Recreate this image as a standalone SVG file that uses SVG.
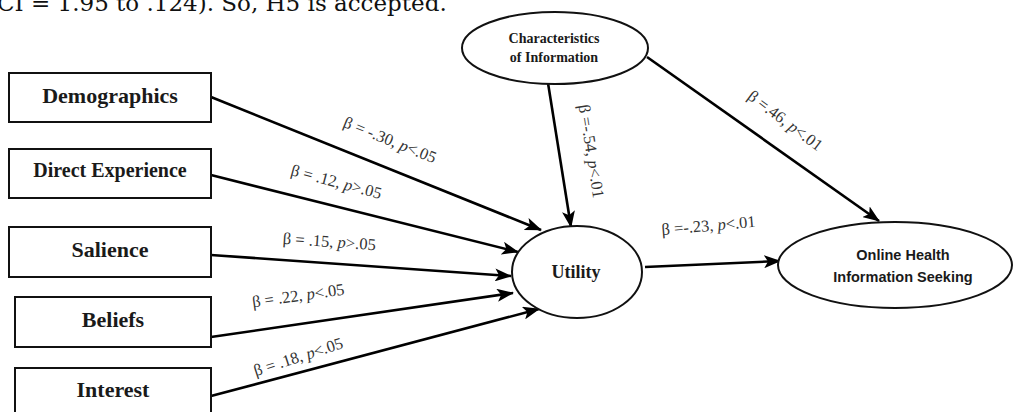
<svg xmlns="http://www.w3.org/2000/svg" width="1017" height="412" viewBox="0 0 1017 412">
<style>
.box{fill:#fff;stroke:#111;stroke-width:2}
.ell{fill:#fff;stroke:#111;stroke-width:2}
.bt{font-family:"Liberation Serif",serif;font-weight:bold;fill:#1a1a1a;text-anchor:middle}
.st{font-family:"Liberation Sans",sans-serif;font-weight:bold;fill:#1a1a1a;text-anchor:middle;font-size:14.5px}
.edge{stroke:#000;stroke-width:2.6;fill:none;marker-end:url(#arr)}
.lbl{font-family:"Liberation Serif",serif;font-size:16.5px;fill:#333;text-anchor:middle}
.it{font-style:italic}
</style>
<defs>
<marker id="arr" markerUnits="userSpaceOnUse" markerWidth="17" markerHeight="13" refX="16" refY="6.5" orient="auto">
<path d="M0,0 L17,6.5 L0,13 L4,6.5 Z" fill="#000"/>
</marker>
</defs>
<text x="-3" y="11" font-family="DejaVu Serif,serif" font-size="23" fill="#111">CI = 1.95 to .124). So, H5 is accepted.</text>
<g id="connectors">
<line class="edge" x1="211" y1="97" x2="541" y2="230"/>
<line class="edge" x1="211" y1="175" x2="518" y2="252"/>
<line class="edge" x1="211" y1="255" x2="511" y2="276"/>
<line class="edge" x1="211" y1="337" x2="513" y2="293"/>
<line class="edge" x1="211" y1="396" x2="539" y2="309"/>
<line class="edge" x1="548" y1="83" x2="571" y2="227"/>
<line class="edge" x1="647" y1="57" x2="879" y2="221"/>
<line class="edge" x1="645" y1="267" x2="780" y2="261"/>
</g>
<g id="labels">
<text class="lbl" transform="translate(388,145) rotate(22)">β = -.30, <tspan class="it">p</tspan>&lt;.05</text>
<text class="lbl" transform="translate(335,187) rotate(15)">β = .12, <tspan class="it">p</tspan>&gt;.05</text>
<text class="lbl" transform="translate(329,247) rotate(4)">β = .15, <tspan class="it">p</tspan>&gt;.05</text>
<text class="lbl" transform="translate(299,301) rotate(-8)">β = .22, <tspan class="it">p</tspan>&lt;.05</text>
<text class="lbl" transform="translate(300,362) rotate(-18)">β = .18, <tspan class="it">p</tspan>&lt;.05</text>
<text class="lbl" transform="translate(586,152) rotate(81)">β =-.54, <tspan class="it">p</tspan>&lt;.01</text>
<text class="lbl" transform="translate(782,125) rotate(37)">β =.46, <tspan class="it">p</tspan>&lt;.01</text>
<text class="lbl" transform="translate(709,231) rotate(-5)">β =-.23, <tspan class="it">p</tspan>&lt;.01</text>
</g>
<g id="demographics"><rect class="box" x="9" y="73" width="202" height="49"/><text class="bt" x="110" y="103" font-size="22">Demographics</text></g>
<g id="direct-experience"><rect class="box" x="9" y="149" width="202" height="49"/><text class="bt" x="110" y="177" font-size="20">Direct Experience</text></g>
<g id="salience"><rect class="box" x="9" y="227" width="202" height="50"/><text class="bt" x="110" y="257" font-size="22">Salience</text></g>
<g id="beliefs"><rect class="box" x="15" y="297" width="196" height="50"/><text class="bt" x="113" y="327" font-size="22">Beliefs</text></g>
<g id="interest"><rect class="box" x="15" y="368" width="196" height="50"/><text class="bt" x="113" y="397" font-size="22">Interest</text></g>
<g id="utility"><ellipse class="ell" cx="577" cy="272" rx="65" ry="46"/><text class="bt" x="576" y="278" font-size="18">Utility</text></g>
<g id="characteristics"><ellipse class="ell" cx="555" cy="48" rx="93" ry="36"/><text class="bt" x="554" y="43" font-size="14">Characteristics</text><text class="bt" x="554" y="62" font-size="14">of Information</text></g>
<g id="online-health"><ellipse class="ell" cx="895" cy="265" rx="117" ry="43"/><text class="st" x="903" y="260">Online Health</text><text class="st" x="903" y="282">Information Seeking</text></g>
</svg>
